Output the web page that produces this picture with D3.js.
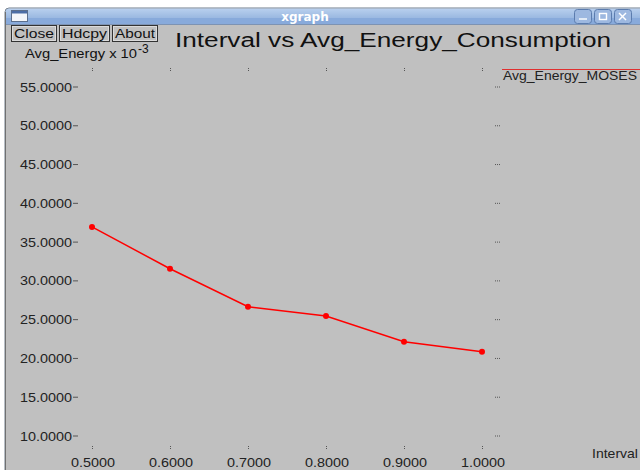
<!DOCTYPE html>
<html>
<head>
<meta charset="utf-8">
<script src="https://cdn.jsdelivr.net/npm/d3@7"></script>
<style>
  html, body { margin: 0; padding: 0; background: #ffffff; }
  svg { display: block; font-family: "Liberation Sans", Arial, sans-serif; }
</style>
</head>
<body>
<svg id="chart" width="640" height="470"></svg>
<script>
// Interval vs average energy consumption (values in units of 10^-3)
const intervals = [0.5, 0.6, 0.7, 0.8, 0.9, 1.0];
const avgEnergyMoses = [36.9, 31.5, 26.6, 25.4, 22.1, 20.8];
const xTickValues = [0.5, 0.6, 0.7, 0.8, 0.9, 1.0];
const yTickValues = [10, 15, 20, 25, 30, 35, 40, 45, 50, 55];
const seriesName = "Avg_Energy_MOSES";
const chartTitle = "Interval vs Avg_Energy_Consumption";
const xAxisName = "Interval";
const yAxisName = "Avg_Energy x 10";
const buttonLabels = ["Close", "Hdcpy", "About"];

const svg = d3.select("#chart");
const defs = svg.append("defs");

// wide-glyph text helper: stretches glyphs to the given width
function wideText(sel, w) {
  return sel.attr("textLength", w).attr("lengthAdjust", "spacingAndGlyphs");
}

// window frame
const grad = defs.append("linearGradient").attr("id", "tbar").attr("x1", 0).attr("y1", 0).attr("x2", 0).attr("y2", 1);
grad.append("stop").attr("offset", "0%").attr("stop-color", "#b9d0ee");
grad.append("stop").attr("offset", "100%").attr("stop-color", "#85a8d8");

svg.append("rect").attr("x", 5).attr("y", 8).attr("width", 650).attr("height", 470)
  .attr("rx", 4).attr("fill", "#c0c0c0").attr("stroke", "#6f7c8c").attr("stroke-width", 1);
svg.append("rect").attr("x", 5.5).attr("y", 8.5).attr("width", 650).attr("height", 16)
  .attr("rx", 4).attr("fill", "url(#tbar)");
svg.append("rect").attr("x", 5.5).attr("y", 18).attr("width", 650).attr("height", 6.5).attr("fill", "#88aadb");
svg.append("line").attr("x1", 5).attr("x2", 640).attr("y1", 24.5).attr("y2", 24.5).attr("stroke", "#7d93b3");
svg.append("line").attr("x1", 5.5).attr("x2", 5.5).attr("y1", 12).attr("y2", 470).attr("stroke", "#707070");

// title bar icon
svg.append("rect").attr("x", 11.5).attr("y", 10.5).attr("width", 16).attr("height", 11)
  .attr("fill", "#f4f6fa").attr("stroke", "#5c6f8c");
svg.append("rect").attr("x", 12).attr("y", 11).attr("width", 15).attr("height", 2.5).attr("fill", "#4d6ea6");
svg.append("text").attr("x", 305).attr("y", 21).attr("text-anchor", "middle")
  .attr("font-family", "DejaVu Sans, sans-serif").attr("font-weight", "bold").attr("font-size", 12)
  .attr("fill", "#ffffff").text("xgraph");

// title bar control buttons
[574, 594, 614].forEach((bx, i) => {
  svg.append("rect").attr("x", bx + 0.5).attr("y", 9.5).attr("width", 17).attr("height", 14).attr("rx", 3)
    .attr("fill", "#9db8e0").attr("stroke", "#5b7cae");
  const g = svg.append("g").attr("stroke", "#ffffff").attr("stroke-width", 1.4).attr("fill", "none");
  if (i === 0) g.append("line").attr("x1", bx + 5).attr("x2", bx + 13).attr("y1", 19).attr("y2", 19);
  if (i === 1) g.append("rect").attr("x", bx + 5.5).attr("y", 13.5).attr("width", 7).attr("height", 6);
  if (i === 2) {
    g.append("line").attr("x1", bx + 5).attr("x2", bx + 12).attr("y1", 13).attr("y2", 20);
    g.append("line").attr("x1", bx + 12).attr("x2", bx + 5).attr("y1", 13).attr("y2", 20);
  }
});

// xgraph command buttons (raised look: outer dark frame, inner light edge)
let bxPos = 11;
const buttonWidths = [45, 50, 45];
buttonLabels.forEach((lbl, i) => {
  const w = buttonWidths[i];
  svg.append("rect").attr("x", bxPos + 0.5).attr("y", 25.5).attr("width", w).attr("height", 16)
    .attr("fill", "#c0c0c0").attr("stroke", "#333333");
  svg.append("rect").attr("x", bxPos + 1.5).attr("y", 26.5).attr("width", w - 2).attr("height", 14)
    .attr("fill", "none").attr("stroke", "#e2e2e2").attr("stroke-width", 0.8);
  wideText(svg.append("text").attr("x", bxPos + 3).attr("y", 38)
    .attr("font-size", 12.5).attr("fill", "#111"), w - 5).text(lbl);
  bxPos += w + 3;
});

// chart title
wideText(svg.append("text").attr("x", 175).attr("y", 47).attr("font-size", 20).attr("fill", "#111"), 436)
  .text(chartTitle);

// y axis name with exponent
const yName = svg.append("text").attr("x", 25).attr("y", 58).attr("font-size", 13).attr("fill", "#111");
wideText(yName.append("tspan"), 112).text(yAxisName);
yName.append("tspan").attr("dx", 1).attr("dy", -5).attr("font-size", 12).text("-3");

// scales
const x = d3.scaleLinear().domain([0.5, 1.0]).range([92, 482]);
const y = d3.scaleLinear().domain([10, 55]).range([435.5, 86.5]);

// left tick labels with dash marks, right-side tick marks
const yt = svg.append("g");
yTickValues.forEach(v => {
  wideText(yt.append("text").attr("x", 20).attr("y", y(v) + 5)
    .attr("font-size", 13.5).attr("fill", "#222"), 52).text(d3.format(".4f")(v));
  yt.append("line").attr("x1", 73).attr("x2", 78).attr("y1", y(v) + 0.5).attr("y2", y(v) + 0.5)
    .attr("stroke", "#555").attr("stroke-width", 1);
  yt.append("line").attr("x1", 495).attr("x2", 500).attr("y1", y(v) + 0.5).attr("y2", y(v) + 0.5)
    .attr("stroke", "#555").attr("stroke-width", 1).attr("stroke-dasharray", "1,1");
});

// x tick labels with small marks top and bottom
const xt = svg.append("g");
xTickValues.forEach(v => {
  wideText(xt.append("text").attr("x", x(v) - 21).attr("y", 467)
    .attr("font-size", 13.5).attr("fill", "#222"), 44).text(d3.format(".4f")(v));
  xt.append("line").attr("x1", x(v) + 0.5).attr("x2", x(v) + 0.5).attr("y1", 446).attr("y2", 450)
    .attr("stroke", "#555").attr("stroke-dasharray", "1,1");
  xt.append("line").attr("x1", x(v) + 0.5).attr("x2", x(v) + 0.5).attr("y1", 68).attr("y2", 72)
    .attr("stroke", "#555").attr("stroke-dasharray", "1,1");
});

// x axis name
wideText(svg.append("text").attr("x", 592).attr("y", 458).attr("font-size", 13).attr("fill", "#222"), 46)
  .text(xAxisName);

// legend
svg.append("line").attr("x1", 502).attr("x2", 640).attr("y1", 69.5).attr("y2", 69.5).attr("stroke", "#e03030").attr("stroke-width", 1);
wideText(svg.append("text").attr("x", 503).attr("y", 80).attr("font-size", 13).attr("fill", "#222"), 134)
  .text(seriesName);

// data series
const pts = intervals.map((v, i) => [v, avgEnergyMoses[i]]);
svg.append("path").datum(pts)
  .attr("d", d3.line().x(d => x(d[0])).y(d => y(d[1])))
  .attr("fill", "none").attr("stroke", "#ff0000").attr("stroke-width", 1.5);
svg.append("g").selectAll("circle").data(pts).join("circle")
  .attr("cx", d => x(d[0])).attr("cy", d => y(d[1])).attr("r", 3).attr("fill", "#ff0000");
</script>
</body>
</html>
